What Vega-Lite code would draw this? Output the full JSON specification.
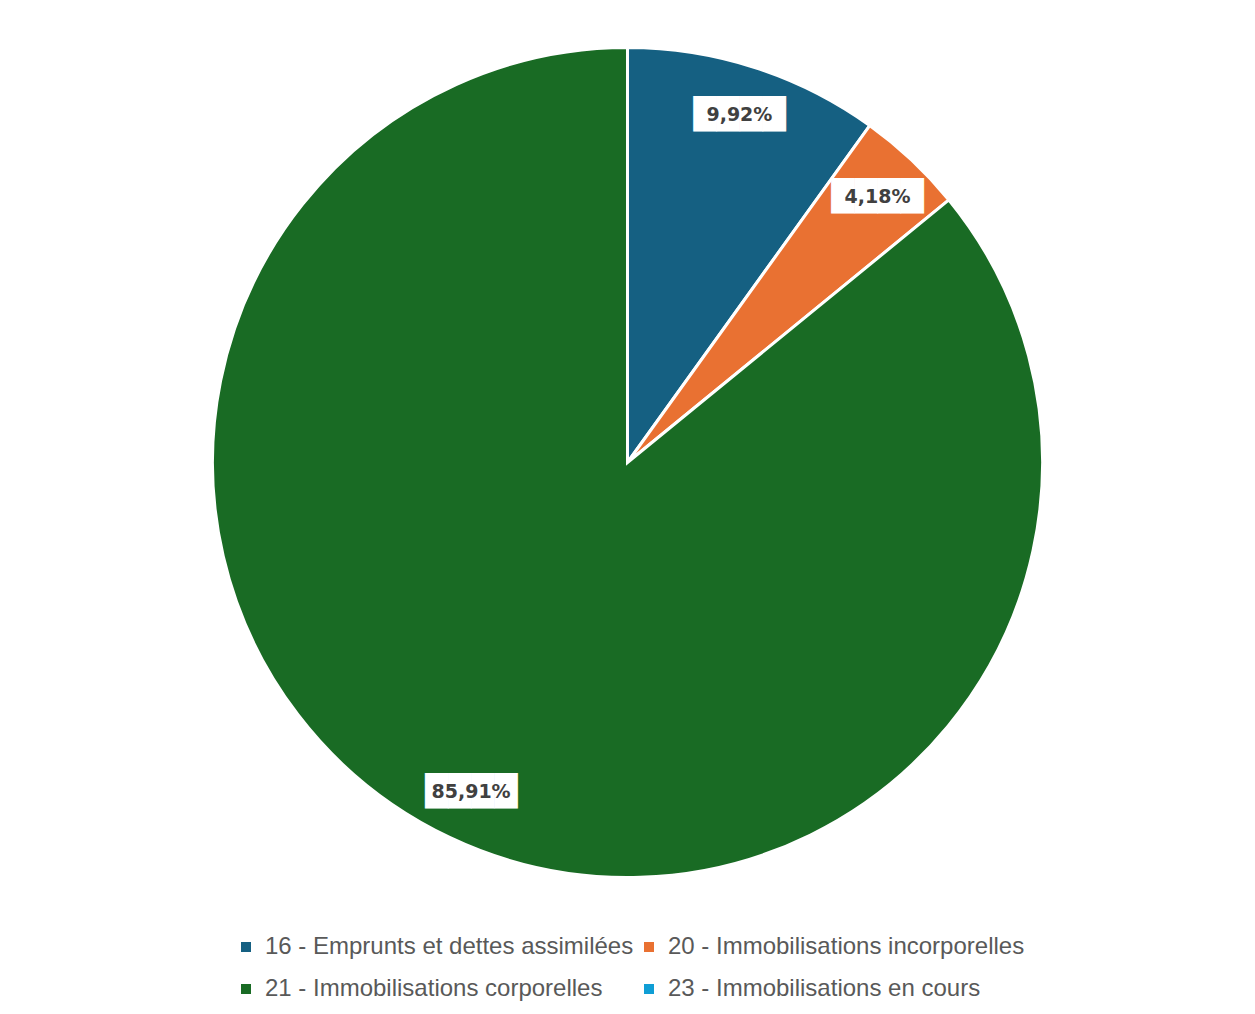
{
  "$schema": "https://vega.github.io/schema/vega-lite/v6.json",
  "width": 1255,
  "height": 925,
  "padding": 0,
  "autosize": {"type": "pad"},
  "background": "white",
  "view": {"stroke": null},
  "data": {
    "values": [
      {"order": 1, "category": "16 - Emprunts et dettes assimilées", "value": 9.92, "label": "9,92%"},
      {"order": 2, "category": "20 - Immobilisations incorporelles", "value": 4.18, "label": "4,18%"},
      {"order": 3, "category": "21 - Immobilisations corporelles", "value": 85.91, "label": "85,91%"},
      {"order": 4, "category": "23 - Immobilisations en cours", "value": 0, "label": ""}
    ]
  },
  "encoding": {
    "theta": {"field": "value", "type": "quantitative", "stack": true},
    "order": {"field": "order", "type": "quantitative"}
  },
  "layer": [
    {
      "mark": {"type": "arc", "outerRadius": 415, "stroke": "white", "strokeWidth": 3},
      "encoding": {
        "color": {
          "field": "category",
          "type": "nominal",
          "sort": {"field": "order"},
          "scale": {
            "domain": ["16 - Emprunts et dettes assimilées", "20 - Immobilisations incorporelles", "21 - Immobilisations corporelles", "23 - Immobilisations en cours"],
            "range": ["#156082", "#E97132", "#196B24", "#0F9ED5"]
          },
          "legend": {
            "title": null,
            "orient": "none",
            "legendX": 234,
            "legendY": 935,
            "direction": "horizontal",
            "columns": 2,
            "symbolType": "square",
            "symbolSize": 100,
            "symbolStrokeWidth": 0,
            "labelFont": "Liberation Sans",
            "labelFontSize": 24,
            "labelColor": "#595959",
            "labelLimit": 600,
            "rowPadding": 18,
            "columnPadding": 3,
            "labelOffset": 7
          }
        }
      }
    },
    {
      "transform": [{"filter": "datum.value > 0"}],
      "mark": {"type": "text", "radius": 365, "font": "DejaVu Sans", "fontSize": 30, "fill": "white", "align": "center", "baseline": "middle", "text": "████"}
    },
    {
      "transform": [{"filter": "datum.value > 0"}],
      "mark": {"type": "text", "radius": 365, "font": "DejaVu Sans", "fontWeight": "bold", "fontSize": 19, "fill": "#404040", "align": "center", "baseline": "middle"},
      "encoding": {"text": {"field": "label"}}
    }
  ]
}
